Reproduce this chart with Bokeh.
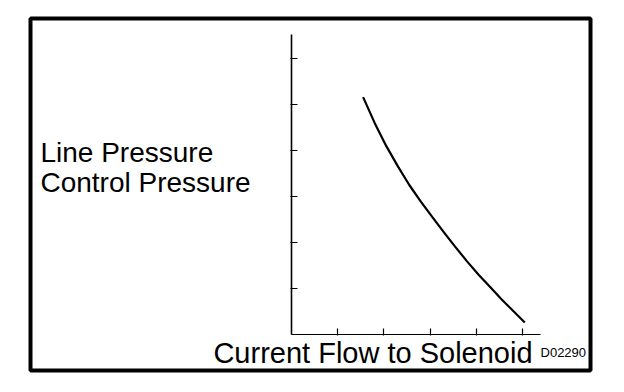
from bokeh.plotting import figure
from bokeh.models import Range1d, FixedTicker, Label
from bokeh.embed import file_html
from bokeh.resources import INLINE

# data (arbitrary units)
current = [1.55, 1.80, 2.05, 2.30, 2.55, 2.80, 3.05, 3.30, 3.55, 3.80, 4.05, 4.30, 4.55, 4.80, 5.05]
pressure = [5.16, 4.60, 4.10, 3.66, 3.25, 2.89, 2.55, 2.22, 1.90, 1.59, 1.30, 1.03, 0.76, 0.51, 0.26]
x_ticks = [1, 2, 3, 4, 5]
y_ticks = [1, 2, 3, 4, 5, 6]
y_labels = ["Line Pressure", "Control Pressure"]
x_label = "Current Flow to Solenoid"
code_label = "D02290"

FONT = "Liberation Sans"

# the plot frame is the outer box of the drawing; axes are placed inside it
p = figure(width=620, height=388, output_backend="svg", toolbar_location=None,
           x_range=Range1d(-5.649, 6.472), y_range=Range1d(-0.783, 6.870),
           min_border_left=30, min_border_right=30,
           min_border_top=18, min_border_bottom=18)
p.background_fill_color = "white"
p.border_fill_color = "white"
p.outline_line_color = "black"
p.outline_line_width = 4
p.xgrid.grid_line_color = None
p.ygrid.grid_line_color = None

xa, ya = p.xaxis[0], p.yaxis[0]
xa.fixed_location = 0
ya.fixed_location = 0
xa.bounds = (0, 5.39)
ya.bounds = (0, 6.52)
for ax, ticks in ((xa, x_ticks), (ya, y_ticks)):
    ax.ticker = FixedTicker(ticks=ticks, minor_ticks=[])
    ax.major_label_overrides = {t: "" for t in ticks}
    ax.major_tick_in = 6
    ax.major_tick_out = 1
    ax.minor_tick_line_color = None
    ax.axis_line_color = "black"
    ax.major_tick_line_color = "black"
    ax.major_tick_line_width = 1.2
xa.axis_line_width = 1.2
ya.axis_line_width = 1.6

p.line(current, pressure, line_color="black", line_width=2.2, line_join="round")

def add_text(x, y, txt, size):
    p.add_layout(Label(x=x, y=y, text=txt, text_font=FONT, text_font_size=size,
                       text_color="black", text_baseline="alphabetic"))

add_text(-5.433, 3.960, y_labels[0], "28px")
add_text(-5.433, 3.305, y_labels[1], "28px")
add_text(-1.690, -0.392, x_label, "29px")
add_text(5.390, -0.400, code_label, "13px")

open("out.html", "w").write(file_html(p, INLINE))
